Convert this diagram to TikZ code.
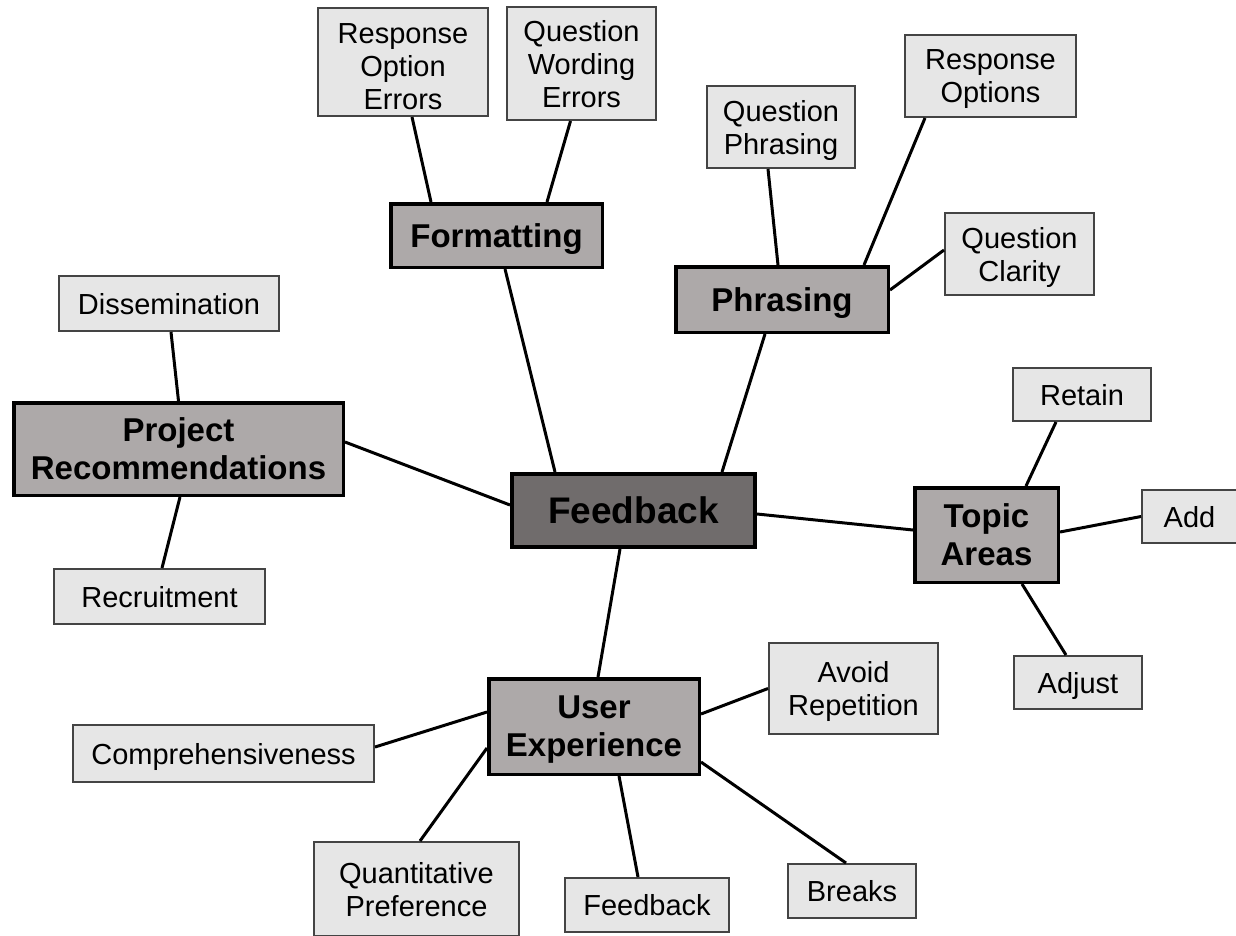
\documentclass[tikz,border=0pt]{standalone}
\usepackage{fontspec}
\setmainfont{Liberation Sans}
\definecolor{hubgray}{HTML}{706C6C}
\definecolor{midgray}{HTML}{ADA9A9}
\definecolor{leafgray}{HTML}{E6E6E6}
\definecolor{leafedge}{HTML}{444444}
\begin{document}
\begin{tikzpicture}[x=1pt,y=-1pt,
  link/.style={line width=3pt, draw=black},
  hub/.style={draw=black, line width=4pt, fill=hubgray, inner sep=0pt, align=center,
    text depth=0pt, font=\bfseries\fontsize{37}{42}\selectfont},
  branch/.style={draw=black, line width=3.5pt, fill=midgray, inner sep=0pt, align=center,
    text depth=0pt, font=\bfseries\fontsize{33}{38}\selectfont},
  leaf/.style={draw=leafedge, line width=2pt, fill=leafgray, inner sep=0pt, align=center,
    text depth=0pt, font=\fontsize{29}{33}\selectfont},
]
\useasboundingbox (0,0) rectangle (1236,935);
\clip (0,0) rectangle (1236,935);

% centre and first-level branches
\node[hub, minimum width=243pt, minimum height=73pt] (fb) at (633.5,510.5) {Feedback};
\node[branch, minimum width=329.5pt, minimum height=92.5pt] (proj) at (178.5,449) {Project\\Recommendations};
\node[branch, minimum width=211.5pt, minimum height=63.5pt] (fmt) at (496.5,235.5) {Formatting};
\node[branch, minimum width=212.5pt, minimum height=65.5pt] (phr) at (782,299.5) {Phrasing};
\node[branch, minimum width=143.5pt, minimum height=94.5pt] (topic) at (986.5,535) {Topic\\Areas};
\node[branch, minimum width=210.5pt, minimum height=95.5pt] (ux) at (594,726.5) {User\\Experience};

% leaves
\node[leaf, text height=95pt, minimum width=170pt, minimum height=108pt] (roe) at (403,62) {Response\\Option\\Errors};
\node[leaf, minimum width=149pt, minimum height=113pt] (qwe) at (581.5,63.5) {Question\\Wording\\Errors};
\node[leaf, minimum width=148pt, minimum height=82pt] (qp) at (781,127) {Question\\Phrasing};
\node[leaf, minimum width=171pt, minimum height=82pt] (ro) at (990.5,76) {Response\\Options};
\node[leaf, minimum width=149pt, minimum height=82pt] (qc) at (1019.5,254) {Question\\Clarity};
\node[leaf, minimum width=220pt, minimum height=55pt] (dis) at (169,303.5) {Dissemination};
\node[leaf, minimum width=211pt, minimum height=55pt] (rec) at (159.5,596.5) {Recruitment};
\node[leaf, minimum width=138pt, minimum height=53pt] (ret) at (1082,394.5) {Retain};
\node[leaf, minimum width=95pt, minimum height=53pt] (add) at (1189.5,516.5) {Add};
\node[leaf, minimum width=128pt, minimum height=53pt] (adj) at (1078,682.5) {Adjust};
\node[leaf, minimum width=169pt, minimum height=91pt] (avr) at (853.5,688.5) {Avoid\\Repetition};
\node[leaf, minimum width=301pt, minimum height=57pt] (comp) at (223.5,753.5) {Comprehensiveness};
\node[leaf, minimum width=205pt, minimum height=94pt] (quant) at (416.5,889) {Quantitative\\Preference};
\node[leaf, minimum width=164pt, minimum height=54pt] (fbl) at (647,905) {Feedback};
\node[leaf, minimum width=128pt, minimum height=54pt] (brk) at (852,891) {Breaks};

% connectors from the centre
\draw[link] ([xshift=-78.5pt]fb.north) -- ([xshift=8.5pt]fmt.south);
\draw[link] ([xshift=88.5pt]fb.north) -- ([xshift=-17pt]phr.south);
\draw[link] ([yshift=5.5pt]fb.west) -- ([yshift=7pt]proj.east);
\draw[link] ([yshift=-3.5pt]fb.east) -- ([yshift=5pt]topic.west);
\draw[link] ([xshift=-13.5pt]fb.south) -- ([xshift=4pt]ux.north);

% Formatting
\draw[link] ([xshift=-65.5pt]fmt.north) -- ([xshift=9pt]roe.south);
\draw[link] ([xshift=50.5pt]fmt.north) -- ([xshift=-11pt]qwe.south);

% Phrasing
\draw[link] ([xshift=-4pt]phr.north) -- ([xshift=-13pt]qp.south);
\draw[link] ([xshift=82pt]phr.north) -- ([xshift=-65.5pt]ro.south);
\draw[link] ([yshift=9.5pt]phr.east) -- ([yshift=4pt]qc.west);

% Project Recommendations
\draw[link] (proj.north) -- ([xshift=2pt]dis.south);
\draw[link] ([xshift=1.5pt]proj.south) -- ([xshift=2.5pt]rec.north);

% Topic Areas
\draw[link] ([xshift=39.5pt]topic.north) -- ([xshift=-26pt]ret.south);
\draw[link] ([yshift=3pt]topic.east) -- (add.west);
\draw[link] ([xshift=35.5pt]topic.south) -- ([xshift=-12pt]adj.north);

% User Experience
\draw[link] ([yshift=14.5pt]ux.west) -- ([yshift=6.5pt]comp.east);
\draw[link] ([yshift=-21.5pt]ux.west) -- ([xshift=3.5pt]quant.north);
\draw[link] ([yshift=12.5pt]ux.east) -- (avr.west);
\draw[link] ([xshift=25pt]ux.south) -- ([xshift=-9pt]fbl.north);
\draw[link] ([yshift=-35.5pt]ux.east) -- ([xshift=-6pt]brk.north);
\end{tikzpicture}
\end{document}
